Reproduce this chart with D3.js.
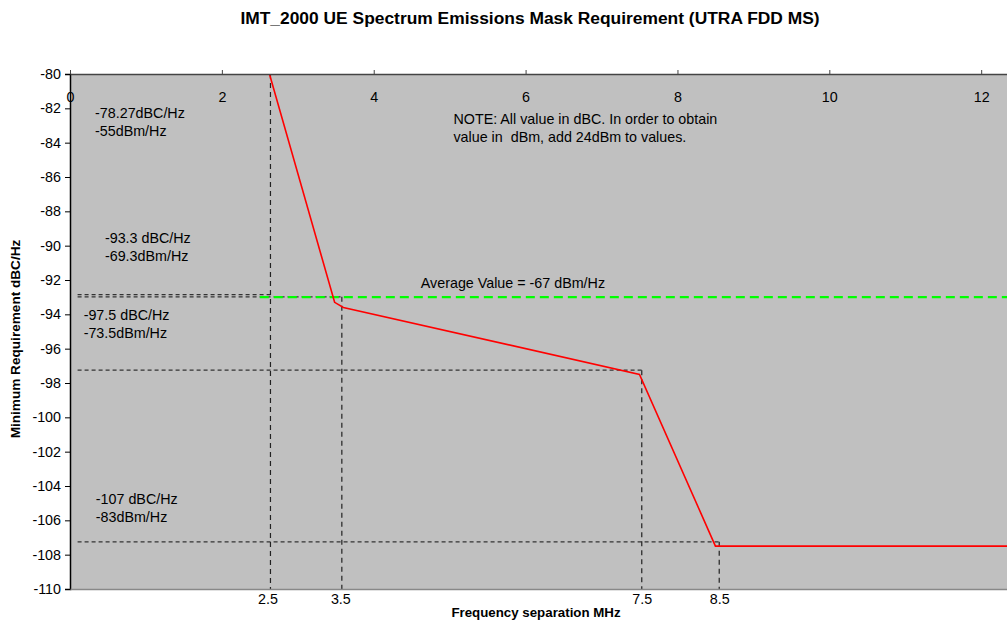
<!DOCTYPE html>
<html><head><meta charset="utf-8">
<script src="https://cdn.jsdelivr.net/npm/d3@7"></script>
<style>body{margin:0;background:#fff;} text{font-family:"Liberation Sans",Arial,sans-serif; white-space:pre;}</style>
</head><body>
<svg id="c" width="1007" height="622"></svg>
<script>
const maskX = [2.515, 3.485, 3.6, 7.5, 8.5, 12.4];
const maskY = [-78.27, -93.3, -93.6, -97.5, -107.5, -107.5];
const xTicks = [0, 2, 4, 6, 8, 10, 12];
const yTicks = d3.range(-80, -111, -2);
const bottomTicks = ["2.5", "3.5", "7.5", "8.5"];
const bottomTickPos = [2.6, 3.56, 7.53, 8.55];
const averageY = -93.0;
// reference guide lines: [x1,y1,x2,y2] in data units
const guidesH = [[0, -80, 2.64, -80], [0.1, -92.85, 2.64, -92.85], [0.1, -92.98, 3.58, -92.98], [0.1, -97.25, 7.53, -97.25], [0.1, -107.25, 8.55, -107.25]];
const guidesV = [[2.64, -80, 2.64, -110], [3.58, -92.98, 3.58, -110], [7.53, -97.25, 7.53, -110], [8.55, -107.25, 8.55, -110]];
const notes = [
  {x: 0.33, y: -82.56, lines: ["-78.27dBC/Hz", "-55dBm/Hz"]},
  {x: 0.46, y: -89.84, lines: ["-93.3 dBC/Hz", "-69.3dBm/Hz"]},
  {x: 0.18, y: -94.33, lines: ["-97.5 dBC/Hz", "-73.5dBm/Hz"]},
  {x: 0.34, y: -105.04, lines: ["-107 dBC/Hz", "-83dBm/Hz"]},
  {x: 5.05, y: -82.91, lines: ["NOTE: All value in dBC. In order to obtain", "value in  dBm, add 24dBm to values."]}
];
const avgLabel = {x: 4.62, y: -92.46, text: "Average Value = -67 dBm/Hz"};

const svg = d3.select("#c");
const L = 70, R = 1007, T = 74, B = 589;
const x = d3.scaleLinear().domain([0, 12.34]).range([L, R]);
const y = d3.scaleLinear().domain([-80, -110]).range([T, B]);
const FONT = "Liberation Sans, Arial, sans-serif";

svg.append("rect").attr("x", L).attr("y", T).attr("width", R - L).attr("height", B - T).attr("fill", "#c0c0c0");
svg.append("clipPath").attr("id", "clip").append("rect").attr("x", L).attr("y", T).attr("width", R - L).attr("height", B - T);

// title
svg.append("text").attr("x", 530).attr("y", 24).attr("text-anchor", "middle").attr("font-weight", "bold").attr("font-size", 17.4).text("IMT_2000 UE Spectrum Emissions Mask Requirement (UTRA FDD MS)");

const g = svg.append("g").attr("clip-path", "url(#clip)");

// guide lines
g.selectAll(".gh").data(guidesH).join("line")
  .attr("x1", d => x(d[0])).attr("y1", d => y(d[1])).attr("x2", d => x(d[2])).attr("y2", d => y(d[3]))
  .attr("stroke", "#333").attr("stroke-width", 1.2).attr("stroke-dasharray", "4,3");
g.selectAll(".gv").data(guidesV).join("line")
  .attr("x1", d => x(d[0])).attr("y1", d => y(d[1])).attr("x2", d => x(d[2])).attr("y2", d => y(d[3]))
  .attr("stroke", "#222").attr("stroke-width", 1.2).attr("stroke-dasharray", "5,4");

// average line
g.append("line").attr("x1", x(2.5)).attr("x2", R).attr("y1", y(averageY)).attr("y2", y(averageY))
  .attr("stroke", "#00ff00").attr("stroke-width", 2.2).attr("stroke-dasharray", "9,5");

// mask line
const line = d3.line().x(d => x(d[0])).y(d => y(d[1]));
g.append("path").datum(maskX.map((v, i) => [v, maskY[i]])).attr("d", line)
  .attr("fill", "none").attr("stroke", "#ff0000").attr("stroke-width", 1.6);

// annotations
notes.forEach(n => {
  n.lines.forEach((t, i) => {
    svg.append("text").attr("x", x(n.x)).attr("y", y(n.y) + i * 18).attr("font-size", 14.3).attr("fill", "#000").text(t);
  });
});
svg.append("text").attr("x", x(avgLabel.x)).attr("y", y(avgLabel.y)).attr("font-size", 14.3).text(avgLabel.text);

// left axis
const yAxis = svg.append("g").attr("transform", `translate(${L},0)`)
  .call(d3.axisLeft(y).tickValues(yTicks).tickSize(5).tickPadding(4).tickFormat(d => String(d)));
yAxis.select(".domain").attr("stroke", "#000").attr("stroke-width", 1.5);
yAxis.selectAll("text").attr("font-size", 14.3).attr("font-family", FONT).attr("fill", "#000");

// top axis: ticks above, labels inside
const xAxis = svg.append("g").attr("transform", `translate(0,${T})`)
  .call(d3.axisTop(x).tickValues(xTicks).tickSize(4).tickSizeOuter(0).tickFormat(d => String(d)));
xAxis.select(".domain").attr("stroke", "#444").attr("stroke-width", 1.5);
xAxis.selectAll(".tick line").attr("stroke", "#444");
xAxis.selectAll("text").attr("font-size", 14.3).attr("font-family", FONT).attr("fill", "#000").attr("y", 28).attr("dy", 0);

// bottom secondary axis
const xb = svg.append("g").attr("transform", `translate(0,${B})`)
  .call(d3.axisBottom(x).tickValues(bottomTickPos).tickSize(0).tickPadding(5).tickSizeOuter(0).tickFormat((d, i) => bottomTicks[i]));
xb.select(".domain").attr("stroke", "#888").attr("stroke-width", 1.5);
xb.selectAll("text").attr("font-size", 14.3).attr("font-family", FONT).attr("fill", "#000");

// axis titles
svg.append("text").attr("x", 536).attr("y", 617).attr("text-anchor", "middle").attr("font-weight", "bold").attr("font-size", 13.3).text("Frequency separation MHz");
svg.append("text").attr("transform", `translate(20,339) rotate(-90)`).attr("text-anchor", "middle").attr("font-weight", "bold").attr("font-size", 13.6).text("Minimum Requirement dBC/Hz");
</script>
</body></html>
